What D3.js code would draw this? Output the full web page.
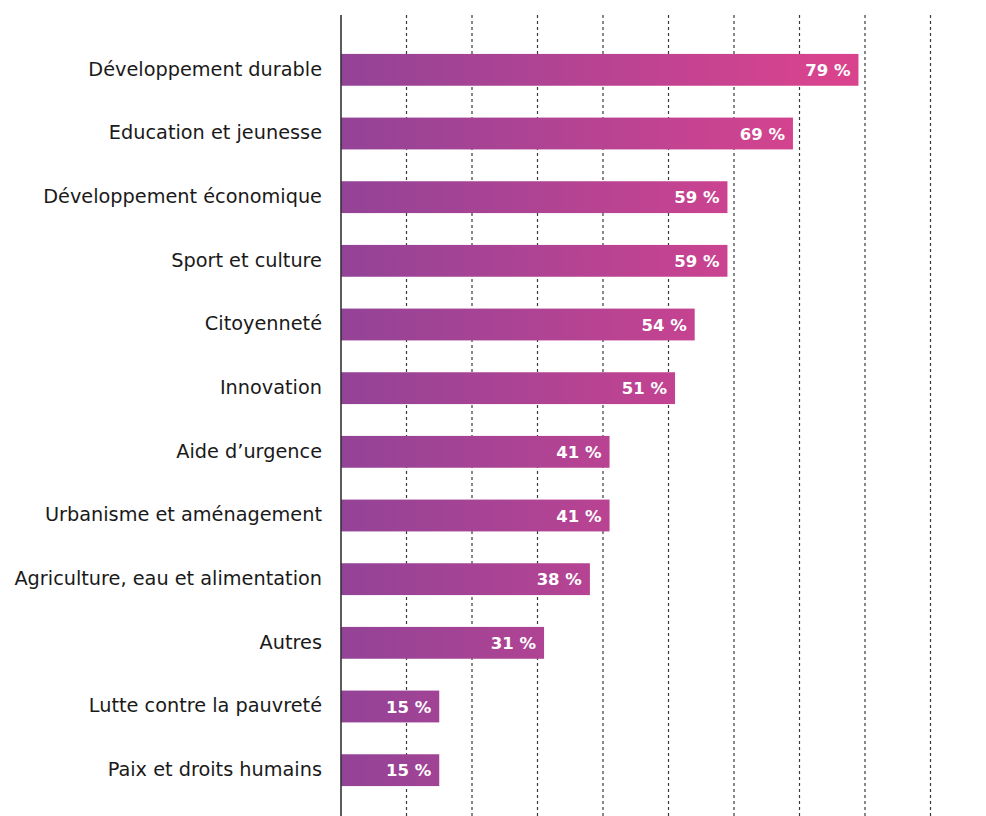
<!DOCTYPE html>
<html>
<head>
<meta charset="UTF-8">
<title>Domaines</title>
<script src="https://cdn.jsdelivr.net/npm/d3@7"></script>
<style>
  body { margin: 0; background: #fff; }
</style>
</head>
<body>
<script>
var categories = ["Développement durable", "Education et jeunesse", "Développement économique",
  "Sport et culture", "Citoyenneté", "Innovation", "Aide d\u2019urgence", "Urbanisme et aménagement",
  "Agriculture, eau et alimentation", "Autres", "Lutte contre la pauvreté", "Paix et droits humains"];
var values = [79, 69, 59, 59, 54, 51, 41, 41, 38, 31, 15, 15];
var gridTicks = [10, 20, 30, 40, 50, 60, 70, 80, 90];

var width = 986, height = 816;
var svg = d3.select("body").append("svg")
    .attr("width", width)
    .attr("height", height);

var x = d3.scaleLinear().domain([0, 100]).range([341, 996]);
var y = d3.scaleBand().domain(categories).range([38, 802]).paddingInner(0.5).paddingOuter(0.25);

var defs = svg.append("defs");
var grad = defs.append("linearGradient")
    .attr("id", "barGrad")
    .attr("gradientUnits", "userSpaceOnUse")
    .attr("x1", x(0)).attr("x2", x(75))
    .attr("y1", 0).attr("y2", 0);
grad.append("stop").attr("offset", "0%").attr("stop-color", "#934397");
grad.append("stop").attr("offset", "100%").attr("stop-color", "#D9438E");

// dashed grid
svg.append("g").selectAll("line").data(gridTicks).enter().append("line")
    .attr("x1", function(d){ return x(d); })
    .attr("x2", function(d){ return x(d); })
    .attr("y1", 15).attr("y2", height)
    .attr("stroke", "#3a3a3a")
    .attr("stroke-width", 1.2)
    .attr("stroke-dasharray", "3,3");

// bars
var bars = svg.append("g").selectAll("g").data(values).enter().append("g");
bars.append("rect")
    .attr("x", x(0))
    .attr("y", function(d, i){ return y(categories[i]); })
    .attr("width", function(d){ return x(d) - x(0); })
    .attr("height", y.bandwidth())
    .attr("fill", "url(#barGrad)");
bars.append("text")
    .attr("x", function(d){ return x(d) - 8; })
    .attr("y", function(d, i){ return y(categories[i]) + y.bandwidth() / 2; })
    .attr("dy", "0.37em")
    .attr("text-anchor", "end")
    .attr("fill", "#fff")
    .attr("font-family", "'DejaVu Sans', sans-serif")
    .attr("font-weight", "bold")
    .attr("font-size", "16.5px")
    .text(function(d){ return d + " %"; });

// category labels
svg.append("g").selectAll("text").data(categories).enter().append("text")
    .attr("x", 322)
    .attr("y", function(d){ return y(d) + y.bandwidth() / 2; })
    .attr("dy", "0.3em")
    .attr("text-anchor", "end")
    .attr("fill", "#1a1a1a")
    .attr("font-family", "'DejaVu Sans', sans-serif")
    .attr("font-size", "19.3px")
    .text(function(d){ return d; });

// axis line
svg.append("line")
    .attr("x1", x(0)).attr("x2", x(0))
    .attr("y1", 15).attr("y2", height)
    .attr("stroke", "#333")
    .attr("stroke-width", 1.6);
</script>
</body>
</html>
